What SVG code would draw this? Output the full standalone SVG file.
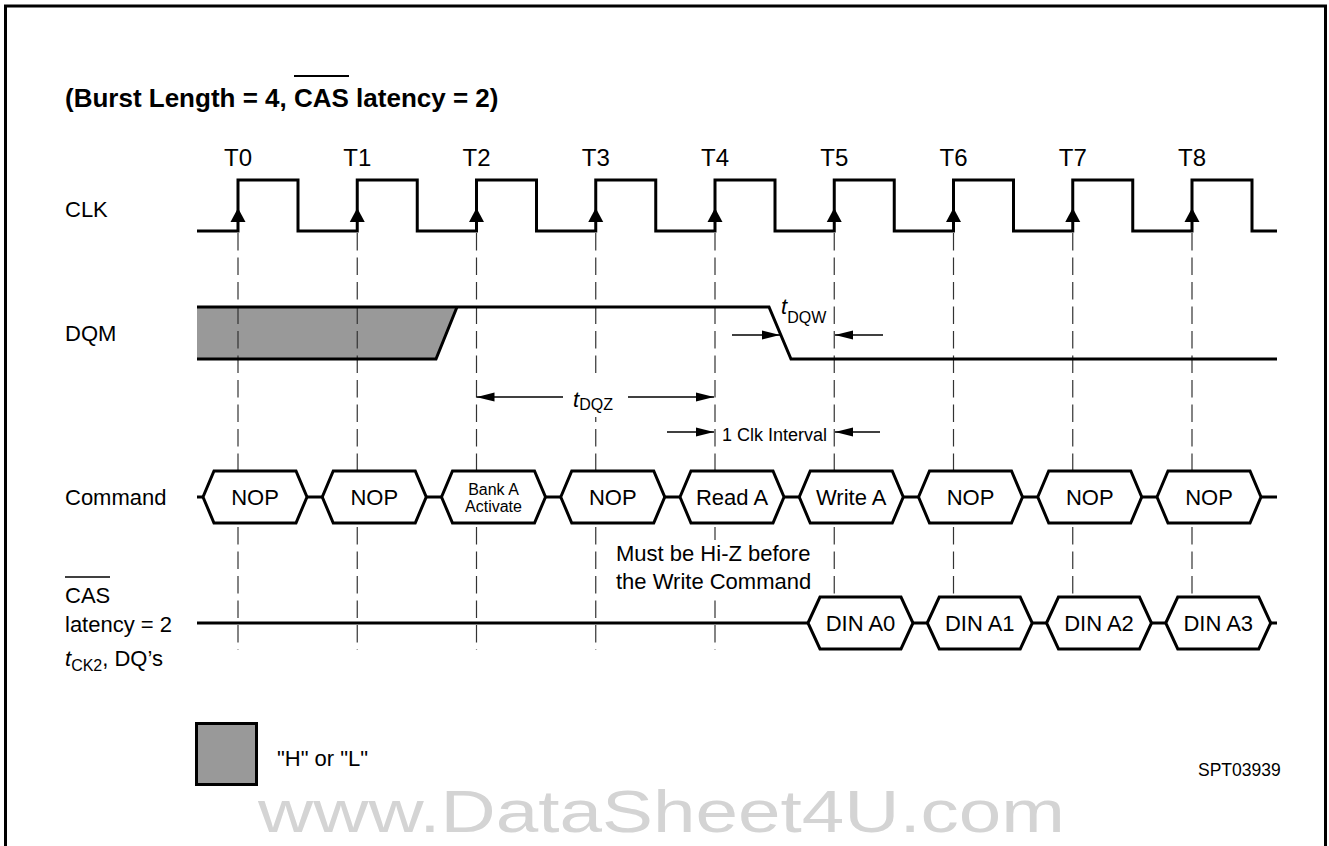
<svg xmlns="http://www.w3.org/2000/svg" xmlns:xlink="http://www.w3.org/1999/xlink" width="1329" height="846" viewBox="0 0 1329 846">
<style>
text{font-family:"Liberation Sans",Arial,Helvetica,sans-serif;fill:#000}
.lbl{font-size:22px}
.tl{font-size:24px;text-anchor:middle}
.hx{font-size:22px;text-anchor:middle}
.sm{font-size:16px;text-anchor:middle}
.it{font-style:italic;font-size:22px}
.sub{font-size:16px}
.ttl{font-size:26px;font-weight:bold}
.sig{fill:none;stroke:#000;stroke-width:3;stroke-linejoin:miter}
.hex{fill:#fff;stroke:#000;stroke-width:3}
.grid{stroke:#333;stroke-width:1.2;stroke-dasharray:17.5 7}
.dim{stroke:#000;stroke-width:1.5}
.wm{font-size:60px;fill:#d4d4d4}
</style>
<defs>
<marker id="ah" markerUnits="userSpaceOnUse" markerWidth="18" markerHeight="10" refX="18" refY="5" orient="auto">
<path d="M0,0.5 L18,5 L0,9.5 z" fill="#000"/>
</marker>
<path id="up" d="M0,-14 L7.5,0 L-7.5,0 z" fill="#000"/>
</defs>
<rect width="1329" height="846" fill="#fff"/>
<path d="M5.5,850 V6 H1325.5 V850" fill="none" stroke="#000" stroke-width="3"/>

<g id="title">
<text class="ttl" x="65" y="107">(Burst Length = 4, CAS latency = 2)</text>
<line x1="294" y1="76" x2="349" y2="76" stroke="#000" stroke-width="2"/>
</g>

<g id="clock-labels">
<text class="tl" x="238" y="166">T0</text>
<text class="tl" x="357.25" y="166">T1</text>
<text class="tl" x="476.5" y="166">T2</text>
<text class="tl" x="595.75" y="166">T3</text>
<text class="tl" x="715" y="166">T4</text>
<text class="tl" x="834.25" y="166">T5</text>
<text class="tl" x="953.5" y="166">T6</text>
<text class="tl" x="1072.75" y="166">T7</text>
<text class="tl" x="1192" y="166">T8</text>
</g>

<g id="signal-labels">
<text class="lbl" x="65" y="217">CLK</text>
<text class="lbl" x="65" y="341">DQM</text>
<text class="lbl" x="65" y="505">Command</text>
<text class="lbl" x="65" y="603">CAS</text>
<line x1="65" y1="577" x2="110" y2="577" stroke="#000" stroke-width="1.5"/>
<text class="lbl" x="65" y="632">latency = 2</text>
<text x="65" y="666"><tspan class="it">t</tspan><tspan class="sub" dy="5">CK2</tspan><tspan class="lbl" dy="-5">, DQ’s</tspan></text>
</g>

<g id="dqm-fill">
<polygon points="197,307 457,307 436,359 197,359" fill="#999"/>
</g>

<g id="connectors">
<line class="grid" x1="238" y1="233" x2="238" y2="650"/>
<line class="grid" x1="357.25" y1="233" x2="357.25" y2="650"/>
<line class="grid" x1="476.5" y1="233" x2="476.5" y2="650"/>
<line class="grid" x1="595.75" y1="233" x2="595.75" y2="650"/>
<line class="grid" x1="715" y1="233" x2="715" y2="650"/>
<line class="grid" x1="834.25" y1="233" x2="834.25" y2="650"/>
<line class="grid" x1="953.5" y1="233" x2="953.5" y2="650"/>
<line class="grid" x1="1072.75" y1="233" x2="1072.75" y2="650"/>
<line class="grid" x1="1192" y1="233" x2="1192" y2="650"/>
<line class="dim" x1="563" y1="397" x2="476.5" y2="397" marker-end="url(#ah)"/>
<line class="dim" x1="628" y1="397" x2="714" y2="397" marker-end="url(#ah)"/>
<line class="dim" x1="667" y1="432" x2="714" y2="432" marker-end="url(#ah)"/>
<line class="dim" x1="880" y1="432" x2="835" y2="432" marker-end="url(#ah)"/>
<line class="dim" x1="732" y1="335" x2="780" y2="335" marker-end="url(#ah)"/>
<line class="dim" x1="883" y1="335" x2="835" y2="335" marker-end="url(#ah)"/>
</g>

<g id="clk">
<path class="sig" d="M197,231 H238 V180 H298 V231 H357.25 V180 H417.25 V231 H476.5 V180 H536.5 V231 H595.75 V180 H655.75 V231 H715 V180 H775 V231 H834.25 V180 H894.25 V231 H953.5 V180 H1013.5 V231 H1072.75 V180 H1132.75 V231 H1192 V180 H1252 V231 H1277"/>
<use xlink:href="#up" x="238" y="222"/>
<use xlink:href="#up" x="357.25" y="222"/>
<use xlink:href="#up" x="476.5" y="222"/>
<use xlink:href="#up" x="595.75" y="222"/>
<use xlink:href="#up" x="715" y="222"/>
<use xlink:href="#up" x="834.25" y="222"/>
<use xlink:href="#up" x="953.5" y="222"/>
<use xlink:href="#up" x="1072.75" y="222"/>
<use xlink:href="#up" x="1192" y="222"/>
</g>

<g id="dqm">
<path class="sig" d="M197,307 H769 L791,359 H1277"/>
<path class="sig" d="M197,359 H436 L457,307"/>
<text x="781" y="314"><tspan class="it">t</tspan><tspan class="sub" dy="9">DQW</tspan></text>
</g>

<g id="tdqz">
<rect x="566" y="380" width="56" height="37" fill="#fff"/>
<text x="573" y="407"><tspan class="it">t</tspan><tspan class="sub" dy="3">DQZ</tspan></text>
</g>
<g id="clk-interval">
<text x="722" y="441" style="font-size:18px">1 Clk Interval</text>
</g>

<g id="command">
<line class="sig" x1="197" y1="497" x2="1277" y2="497"/>
<g id="cmd0"><polygon class="hex" points="203,497 214,471 296,471 307,497 296,523 214,523"/><text class="hx" x="255" y="505">NOP</text></g>
<g id="cmd1"><polygon class="hex" points="322.25,497 333.25,471 415.25,471 426.25,497 415.25,523 333.25,523"/><text class="hx" x="374.25" y="505">NOP</text></g>
<g id="cmd2"><polygon class="hex" points="441.5,497 452.5,471 534.5,471 545.5,497 534.5,523 452.5,523"/><text class="sm" x="493.5" y="495">Bank A</text><text class="sm" x="493.5" y="512">Activate</text></g>
<g id="cmd3"><polygon class="hex" points="560.75,497 571.75,471 653.75,471 664.75,497 653.75,523 571.75,523"/><text class="hx" x="612.75" y="505">NOP</text></g>
<g id="cmd4"><polygon class="hex" points="680,497 691,471 773,471 784,497 773,523 691,523"/><text class="hx" x="732" y="505">Read A</text></g>
<g id="cmd5"><polygon class="hex" points="799.25,497 810.25,471 892.25,471 903.25,497 892.25,523 810.25,523"/><text class="hx" x="851.25" y="505">Write A</text></g>
<g id="cmd6"><polygon class="hex" points="918.5,497 929.5,471 1011.5,471 1022.5,497 1011.5,523 929.5,523"/><text class="hx" x="970.5" y="505">NOP</text></g>
<g id="cmd7"><polygon class="hex" points="1037.75,497 1048.75,471 1130.75,471 1141.75,497 1130.75,523 1048.75,523"/><text class="hx" x="1089.75" y="505">NOP</text></g>
<g id="cmd8"><polygon class="hex" points="1157,497 1168,471 1250,471 1261,497 1250,523 1168,523"/><text class="hx" x="1209" y="505">NOP</text></g>
</g>

<g id="note">
<rect x="612" y="540" width="208" height="55" fill="#fff"/>
<text class="lbl" x="616" y="561">Must be Hi-Z before</text>
<text class="lbl" x="616" y="589">the Write Command</text>
</g>

<g id="dq">
<line class="sig" x1="197" y1="623" x2="1277" y2="623"/>
<g id="dq0"><polygon class="hex" points="808,623 820,597 901,597 913,623 901,649 820,649"/><text class="hx" x="860.5" y="631">DIN A0</text></g>
<g id="dq1"><polygon class="hex" points="927.25,623 939.25,597 1020.25,597 1032.25,623 1020.25,649 939.25,649"/><text class="hx" x="979.75" y="631">DIN A1</text></g>
<g id="dq2"><polygon class="hex" points="1046.5,623 1058.5,597 1139.5,597 1151.5,623 1139.5,649 1058.5,649"/><text class="hx" x="1099" y="631">DIN A2</text></g>
<g id="dq3"><polygon class="hex" points="1165.75,623 1177.75,597 1258.75,597 1270.75,623 1258.75,649 1177.75,649"/><text class="hx" x="1218.25" y="631">DIN A3</text></g>
</g>

<g id="legend">
<rect x="196.5" y="723.5" width="60" height="61" fill="#999" stroke="#000" stroke-width="3"/>
<text class="lbl" x="277" y="766">"H" or "L"</text>
<text x="1198" y="776" style="font-size:17.5px">SPT03939</text>
</g>

<text class="wm" x="258" y="832" textLength="807" lengthAdjust="spacingAndGlyphs">www.DataSheet4U.com</text>
</svg>
